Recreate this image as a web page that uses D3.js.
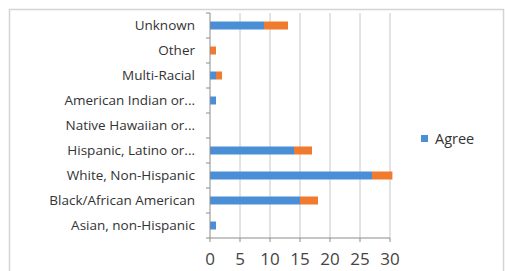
<!DOCTYPE html>
<html>
<head>
<meta charset="utf-8">
<script src="https://cdn.jsdelivr.net/npm/d3@7"></script>
<style>
  body { margin: 0; background: #fff; }
  svg { display: block; font-family: "Open Sans", "Liberation Sans", sans-serif; }
</style>
</head>
<body>
<svg id="chart" width="505" height="271"></svg>
<script>
// chart data (top to bottom)
var categories = ["Unknown", "Other", "Multi-Racial", "American Indian or...", "Native Hawaiian or...",
                  "Hispanic, Latino or...", "White, Non-Hispanic", "Black/African American", "Asian, non-Hispanic"];
var agree = [9, 0, 1, 1, 0, 14, 27, 15, 1];
var other = [4, 1, 1, 0, 0, 3, 3.4, 3, 0];
var xTicks = [0, 5, 10, 15, 20, 25, 30];

var svg = d3.select("#chart");

// frame of the chart area
svg.append("rect")
    .attr("x", 9.5).attr("y", 9.5)
    .attr("width", 494).attr("height", 275)
    .attr("fill", "none").attr("stroke", "#d4d4d4").attr("stroke-width", 1.5);

var x = d3.scaleLinear().domain([0, 30]).range([210, 390]);
var y = d3.scaleBand().domain(categories).range([13, 238]).paddingInner(0.68).paddingOuter(0.34);
var yb = d3.scaleBand().domain(categories).range([13, 238]);

// vertical grid
svg.append("g")
    .selectAll("line")
    .data(xTicks.slice(1))
    .join("line")
    .attr("x1", d => x(d)).attr("x2", d => x(d))
    .attr("y1", 13).attr("y2", 238)
    .attr("stroke", "#c8c8c8").attr("stroke-width", 1);

var rows = categories.map((c, i) => ({ cat: c, a: agree[i], b: other[i] }));

svg.append("g")
    .selectAll("rect")
    .data(rows)
    .join("rect")
    .attr("x", x(0))
    .attr("y", d => y(d.cat))
    .attr("width", d => x(d.a) - x(0))
    .attr("height", y.bandwidth())
    .attr("fill", "#4a8fd6");

svg.append("g")
    .selectAll("rect")
    .data(rows)
    .join("rect")
    .attr("x", d => x(d.a))
    .attr("y", d => y(d.cat))
    .attr("width", d => x(d.a + d.b) - x(d.a))
    .attr("height", y.bandwidth())
    .attr("fill", "#f07a2e");

// y axis with ticks at category boundaries
var yAxis = svg.append("g").attr("transform", "translate(" + x(0) + ",0)");
yAxis.append("line")
    .attr("x1", 0).attr("x2", 0).attr("y1", 13).attr("y2", 238)
    .attr("stroke", "#8c8c8c");
yAxis.selectAll("line.tk")
    .data(categories.concat(["_end"]))
    .join("line")
    .attr("class", "tk")
    .attr("x1", -4).attr("x2", 0)
    .attr("y1", (d, i) => 13 + i * yb.step())
    .attr("y2", (d, i) => 13 + i * yb.step())
    .attr("stroke", "#8c8c8c");
yAxis.selectAll("text")
    .data(categories)
    .join("text")
    .attr("x", -15)
    .attr("y", d => yb(d) + yb.bandwidth() / 2)
    .attr("dy", "0.35em")
    .attr("text-anchor", "end")
    .attr("font-size", 13.5)
    .attr("fill", "#333")
    .text(d => d);

// x axis
var xAxis = svg.append("g").attr("transform", "translate(0,238)");
xAxis.append("line")
    .attr("x1", x(0)).attr("x2", x(30))
    .attr("stroke", "#8c8c8c");
xAxis.selectAll("line.tk")
    .data(xTicks)
    .join("line")
    .attr("class", "tk")
    .attr("x1", d => x(d)).attr("x2", d => x(d))
    .attr("y1", 0).attr("y2", 4)
    .attr("stroke", "#8c8c8c");
xAxis.selectAll("text")
    .data(xTicks)
    .join("text")
    .attr("x", d => x(d))
    .attr("y", 27)
    .attr("text-anchor", "middle")
    .attr("font-size", 17)
    .attr("fill", "#444")
    .text(d => d);

// legend
var legend = svg.append("g").attr("transform", "translate(421,135)");
legend.append("rect").attr("width", 7).attr("height", 7).attr("fill", "#4a8fd6");
legend.append("text")
    .attr("x", 14).attr("y", 3.5).attr("dy", "0.35em")
    .attr("font-size", 14.5).attr("fill", "#333")
    .text("Agree");
</script>
</body>
</html>
